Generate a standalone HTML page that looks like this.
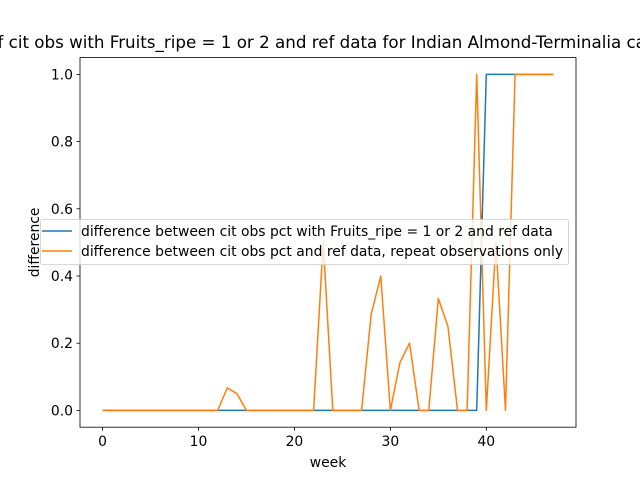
<!DOCTYPE html>
<html><head><meta charset="utf-8"><style>
body{margin:0;background:#fff;}
svg text{font-family:"DejaVu Sans","Liberation Sans",sans-serif;}
</style></head><body>
<svg id="chart" width="640" height="480" viewBox="0 0 640 480" xmlns="http://www.w3.org/2000/svg">
<rect width="640" height="480" fill="#fff"/>
<text x="295" y="48" text-anchor="middle" font-size="16.7">Difference of cit obs with Fruits_ripe = 1 or 2 and ref data for Indian Almond-Terminalia catappa</text>
<g id="plot"></g>
</svg>
<script>
const weeks = Array.from({length:48},(_,i)=>i);
const blueVals = [0,0,0,0,0,0,0,0,0,0,0,0,0,0,0,0,0,0,0,0,0,0,0,0,0,0,0,0,0,0,0,0,0,0,0,0,0,0,0,0,1,1,1,1,1,1,1,1];
const orangeVals = [0,0,0,0,0,0,0,0,0,0,0,0,0,0.067,0.05,0,0,0,0,0,0,0,0,0.5,0,0,0,0,0.286,0.4,0,0.143,0.2,0,0,0.333,0.25,0,0,1,0,0.5,0,1,1,1,1,1];
const xTicks = [0,10,20,30,40];
const yTicks = [0,0.2,0.4,0.6,0.8,1.0];
const yTickLabels = ["0.0","0.2","0.4","0.6","0.8","1.0"];
const seriesLabels = ["difference between cit obs pct with Fruits_ripe = 1 or 2 and ref data","difference between cit obs pct and ref data, repeat observations only"];

const L=80,R=576,T=57.6,B=427.2;
const xmin=-2.35,xmax=49.35,ymin=-0.05,ymax=1.05;
const X=v=>L+(v-xmin)/(xmax-xmin)*(R-L);
const Y=v=>B-(v-ymin)/(ymax-ymin)*(B-T);
const NS="http://www.w3.org/2000/svg";
const g=document.getElementById('plot');
function mk(t,a,p){const e=document.createElementNS(NS,t);for(const k in a)e.setAttribute(k,a[k]);(p||g).appendChild(e);return e;}

function line(vals,color,name){
  const e=mk('polyline',{points:vals.map((v,i)=>X(weeks[i])+','+Y(v)).join(' '),fill:'none',stroke:color,'stroke-width':1.5,'stroke-linejoin':'round'});
  
  
}
line(blueVals,'#1f77b4','series-blue-line');
line(orangeVals,'#ff7f0e','series-orange-line');

const frame=mk('rect',{x:L,y:T,width:R-L,height:B-T,fill:'none',stroke:'#000','stroke-width':0.8});



xTicks.forEach(v=>{
  const t=mk('line',{x1:X(v),x2:X(v),y1:B,y2:B+3.5,stroke:'#000','stroke-width':0.8});
  
  
  const l=mk('text',{x:X(v),y:B+19,'text-anchor':'middle','font-size':13.9});
  
  
  l.textContent=v;
});
yTicks.forEach((v,i)=>{
  const t=mk('line',{x1:L-3.5,x2:L,y1:Y(v),y2:Y(v),stroke:'#000','stroke-width':0.8});
  
  
  const l=mk('text',{x:L-7,y:Y(v)+5,'text-anchor':'end','font-size':13.9});
  
  
  l.textContent=yTickLabels[i];
});
const xt=mk('text',{x:(L+R)/2,y:467,'text-anchor':'middle','font-size':13.9});


xt.textContent='week';
const yt=mk('text',{x:0,y:0,'text-anchor':'middle','font-size':13.9,transform:`translate(39,${(T+B)/2}) rotate(-90)`});


yt.textContent='difference';

const lg=mk('g',{});


mk('rect',{x:40.5,y:219.5,width:528,height:45,rx:2,fill:'#fff','fill-opacity':0.8,stroke:'#ccc','stroke-width':0.8},lg);
['#1f77b4','#ff7f0e'].forEach((c,i)=>{
  const yy=231+i*20;
  const h=mk('line',{x1:42,x2:72,y1:yy,y2:yy,stroke:c,'stroke-width':1.5},lg);
  
  
  const t=mk('text',{x:81,y:yy+5,'font-size':13.9},lg);
  
  
  t.textContent=seriesLabels[i];
});
</script>
</body></html>
